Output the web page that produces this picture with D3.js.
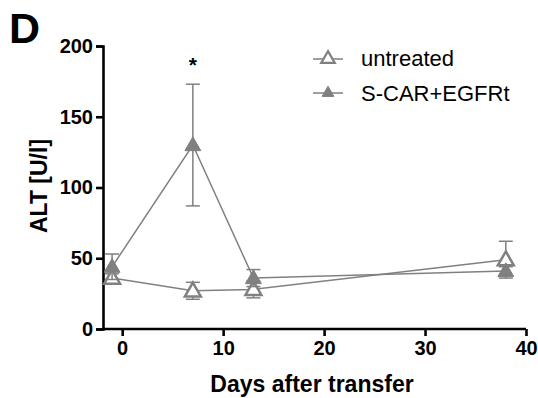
<!DOCTYPE html>
<html><head><meta charset="utf-8">
<script src="https://cdn.jsdelivr.net/npm/d3@7"></script>
<style>body{margin:0;background:#fff}svg{display:block}</style>
</head><body>
<svg id="c" width="538" height="398"></svg>
<script>
const days = [-1, 7, 13, 38];
const untreated = [36, 27, 28, 49];
const untreatedErr = [3, 6, 6, 13];
const scar = [44, 130, 36, 41];
const scarErr = [9, 43, 6, 3];
const seriesNames = ["untreated", "S-CAR+EGFRt"];
const xTicks = [0, 10, 20, 30, 40];
const yTicks = [0, 50, 100, 150, 200];

const svg = d3.select("#c");
const grey = "#808080";
const font = "Liberation Sans, Arial, sans-serif";
const x = d3.scaleLinear().domain([-1.9, 40]).range([103, 526]);
const y = d3.scaleLinear().domain([0, 200]).range([329, 46]);

// axes
const xa = svg.append("g").attr("transform", "translate(0,329)")
  .call(d3.axisBottom(x).tickValues(xTicks).tickSizeOuter(0).tickSize(7).tickPadding(5));
const ya = svg.append("g").attr("transform", "translate(103,0)")
  .call(d3.axisLeft(y).tickValues(yTicks).tickSizeOuter(0).tickSize(7).tickPadding(3));
[xa, ya].forEach(a => {
  a.select(".domain").attr("stroke", "#000").attr("stroke-width", 2.6);
  a.selectAll(".tick line").attr("stroke", "#000").attr("stroke-width", 2.6);
  a.selectAll(".tick text").attr("fill", "#000").attr("font-family", font)
    .attr("font-weight", "bold").attr("font-size", 20);
});
xa.select(".domain").attr("d", "M103,0H526");

svg.append("text").attr("x", 312).attr("y", 392).attr("text-anchor", "middle")
  .attr("font-family", font).attr("font-weight", "bold").attr("font-size", 23)
  .text("Days after transfer");
svg.append("text").attr("transform", "translate(47,186) rotate(-90)").attr("text-anchor", "middle")
  .attr("font-family", font).attr("font-weight", "bold").attr("font-size", 23)
  .text("ALT [U/l]");
svg.append("text").attr("x", 9).attr("y", 43)
  .attr("font-family", font).attr("font-weight", "bold").attr("font-size", 43)
  .text("D");
svg.append("text").attr("x", x(7)).attr("y", 72).attr("text-anchor", "middle")
  .attr("font-family", font).attr("font-weight", "bold").attr("font-size", 21)
  .text("*");

const tri = d3.symbol().type(d3.symbolTriangle).size(110);
const data = [
  {name: seriesNames[0], vals: untreated, err: untreatedErr, filled: false},
  {name: seriesNames[1], vals: scar, err: scarErr, filled: true}
];
const line = d3.line().x(d => x(d[0])).y(d => y(d[1]));
data.forEach(s => {
  const pts = days.map((d, i) => [d, s.vals[i], s.err[i]]);
  const g = svg.append("g");
  g.append("path").attr("d", line(pts)).attr("fill", "none").attr("stroke", grey).attr("stroke-width", 1.5);
  pts.forEach(p => {
    g.append("line").attr("x1", x(p[0])).attr("x2", x(p[0]))
      .attr("y1", y(p[1] - p[2])).attr("y2", y(p[1] + p[2])).attr("stroke", grey).attr("stroke-width", 1.5);
    [p[1] - p[2], p[1] + p[2]].forEach(v => {
      g.append("line").attr("x1", x(p[0]) - 7).attr("x2", x(p[0]) + 7)
        .attr("y1", y(v)).attr("y2", y(v)).attr("stroke", grey).attr("stroke-width", 1.5);
    });
  });
  pts.forEach(p => {
    g.append("path").attr("d", tri).attr("transform", `translate(${x(p[0])},${y(p[1]) + 1})`)
      .attr("fill", s.filled ? grey : "#fff").attr("stroke", grey).attr("stroke-width", s.filled ? 1 : 2.5);
  });
});

// legend
const legY = [59, 93], legTextY = [66, 101];
data.forEach((s, i) => {
  const ly = legY[i];
  svg.append("line").attr("x1", 313).attr("x2", 343).attr("y1", ly).attr("y2", ly)
    .attr("stroke", grey).attr("stroke-width", 1.5);
  svg.append("path").attr("d", d3.symbol().type(d3.symbolTriangle).size(s.filled ? 60 : 80))
    .attr("transform", `translate(328,${ly})`)
    .attr("fill", s.filled ? grey : "#fff").attr("stroke", grey).attr("stroke-width", s.filled ? 1 : 2.2);
  svg.append("text").attr("x", 361).attr("y", legTextY[i])
    .attr("font-family", font).attr("font-size", 22).attr("fill", "#000").text(s.name);
});
</script>
</body></html>
